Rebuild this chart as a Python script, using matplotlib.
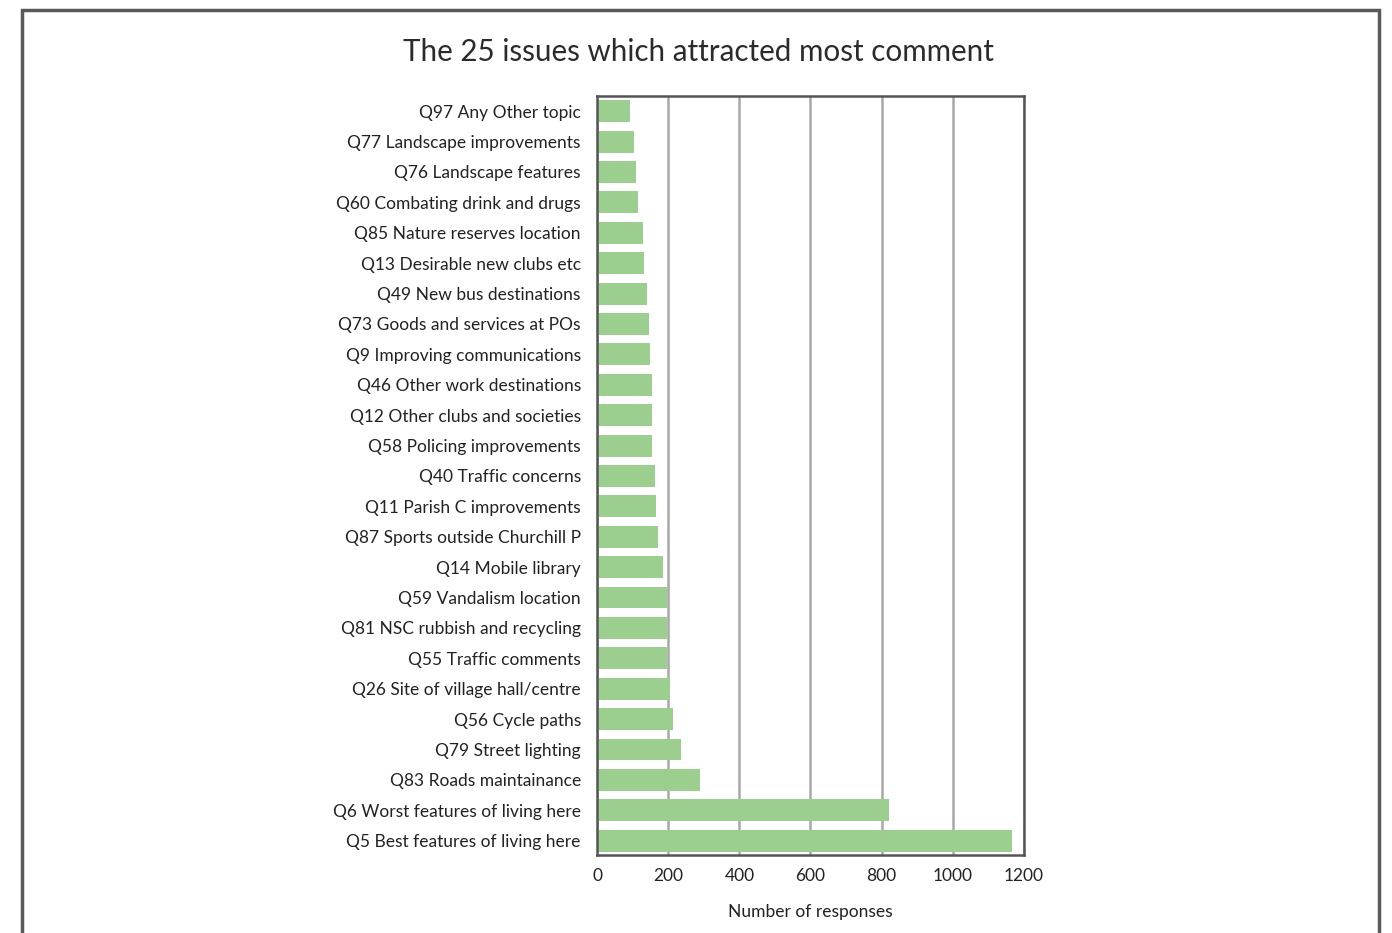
import matplotlib.pyplot as plt
from matplotlib.patches import Rectangle

# Question labels, bottom to top
issues = [
    "Q5 Best features of living here",
    "Q6 Worst features of living here",
    "Q83 Roads maintainance",
    "Q79 Street lighting",
    "Q56 Cycle paths",
    "Q26 Site of village hall/centre",
    "Q55 Traffic comments",
    "Q81 NSC rubbish and recycling",
    "Q59 Vandalism location",
    "Q14 Mobile library",
    "Q87 Sports outside Churchill P",
    "Q11 Parish C improvements",
    "Q40 Traffic concerns",
    "Q58 Policing improvements",
    "Q12 Other clubs and societies",
    "Q46 Other work destinations",
    "Q9 Improving communications",
    "Q73 Goods and services at POs",
    "Q49 New bus destinations",
    "Q13 Desirable new clubs etc",
    "Q85 Nature reserves location",
    "Q60 Combating drink and drugs",
    "Q76 Landscape features",
    "Q77 Landscape improvements",
    "Q97 Any Other topic",
]
responses = [1167, 820, 288, 234, 212, 203, 195, 195, 195, 184,
             170, 164, 161, 155, 153, 153, 147, 144, 139, 130,
             127, 113, 108, 102, 93]
xticks = [0, 200, 400, 600, 800, 1000, 1200]

plt.rcParams['font.family'] = ['Lato', 'DejaVu Sans']

fig = plt.figure(figsize=(13.92, 9.33), dpi=100)
ax = fig.add_axes([0.4292, 0.0836, 0.3061, 0.8135])

# outer border around the whole chart
fig.patches.append(Rectangle((22 / 1392, -0.05), (1379 - 22) / 1392, 1 - 10 / 933 + 0.05,
                             transform=fig.transFigure, fill=False,
                             edgecolor='#5a5a5a', linewidth=2.5))

ax.barh(range(len(issues)), responses, height=0.72, color='#9ccf8f', zorder=2)
ax.set_xlim(0, 1200)
ax.set_ylim(-0.47, len(issues) - 0.5)
ax.set_xticks(xticks)
ax.set_xticklabels([str(t) for t in xticks], fontsize=12.5, color='#222222')
ax.set_yticks(range(len(issues)))
ax.set_yticklabels(issues, fontsize=12.5, color='#222222')
ax.tick_params(length=0, pad=12)
ax.tick_params(axis='x', pad=9)

ax.grid(axis='x', color='#a8a8a8', linewidth=1.8, zorder=1)
for s in ax.spines.values():
    s.set_color('#555555')
    s.set_linewidth(1.8)

ax.set_xlabel('Number of responses', fontsize=12.5, color='#222222', labelpad=15)
fig.text(0.502, 0.944, 'The 25 issues which attracted most comment',
         ha='center', va='center', fontsize=21.3, color='#2b2b2b')

fig.savefig('out.png', dpi=100)
